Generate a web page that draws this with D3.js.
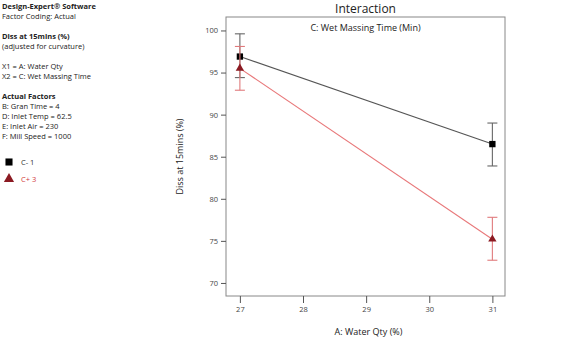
<!DOCTYPE html>
<html>
<head>
<meta charset="utf-8">
<script src="https://cdn.jsdelivr.net/npm/d3@7"></script>
<style>
  body { margin: 0; background: #fff; }
  text { font-family: "Open Sans", "Noto Sans", sans-serif; }
</style>
</head>
<body>
<div id="chart"></div>
<script>
// data
const waterQty = [27, 31];
const xTicks = [27, 28, 29, 30, 31];
const yTicks = [70, 75, 80, 85, 90, 95, 100];
const seriesNames = ["C- 1", "C+ 3"];
const lowValues = [96.9, 86.5];      // C- 1
const lowUpper = [99.6, 89.0];
const lowLower = [94.4, 83.9];
const highValues = [95.5, 75.2];     // C+ 3
const highUpper = [98.1, 77.8];
const highLower = [92.9, 72.7];
const infoLines = [
  { t: "Design-Expert® Software", b: true, y: 9 },
  { t: "Factor Coding: Actual", y: 19 },
  { t: "Diss at 15mins (%)", b: true, y: 39 },
  { t: "(adjusted for curvature)", y: 49 },
  { t: "X1 = A: Water Qty", y: 69 },
  { t: "X2 = C: Wet Massing Time", y: 79 },
  { t: "Actual Factors", b: true, y: 99 },
  { t: "B: Gran Time = 4", y: 109 },
  { t: "D: Inlet Temp = 62.5", y: 119 },
  { t: "E: Inlet Air = 230", y: 129 },
  { t: "F: Mill Speed = 1000", y: 139 }
];

const W = 577, H = 351;
const margin = { top: 17, right: 72, bottom: 55, left: 226 };
const width = W - margin.left - margin.right;
const height = H - margin.top - margin.bottom;

const svg = d3.select("#chart").append("svg")
  .attr("width", W).attr("height", H);

// side notes
svg.append("g").selectAll("text")
  .data(infoLines).enter().append("text")
  .attr("x", 2).attr("y", d => d.y)
  .attr("font-size", 7.5)
  .attr("font-weight", d => d.b ? "bold" : "normal")
  .attr("fill", "#222")
  .text(d => d.t);

const series = [
  { name: seriesNames[0], vals: lowValues, up: lowUpper, lo: lowLower,
    line: "#555", bar: "#666", mark: "#000", txt: "#333", shape: d3.symbolSquare },
  { name: seriesNames[1], vals: highValues, up: highUpper, lo: highLower,
    line: "#e8787a", bar: "#e07a7c", mark: "#8b1a22", txt: "#d23a3a", shape: d3.symbolTriangle }
];

// legend
const leg = svg.append("g");
series.forEach((s, i) => {
  const y = 162 + i * 17;
  leg.append("path")
    .attr("d", d3.symbol().type(s.shape).size(i ? 45 : 50)())
    .attr("transform", `translate(9,${y})`)
    .attr("fill", s.mark);
  leg.append("text").attr("x", 21).attr("y", y + 3)
    .attr("font-size", 7.5).attr("fill", s.txt).text(s.name);
});

const g = svg.append("g").attr("transform", `translate(${margin.left},${margin.top})`);

const x = d3.scaleLinear().domain([26.78, 31.2]).range([0, width]);
const y = d3.scaleLinear().domain([68.45, 101.6]).range([height, 0]);

// frame
g.append("rect").attr("width", width).attr("height", height)
  .attr("fill", "none").attr("stroke", "#888").attr("stroke-width", 1);

// axes
const xAxis = g.append("g").attr("transform", `translate(0,${height})`)
  .call(d3.axisBottom(x).tickValues(xTicks).tickSize(7).tickPadding(4).tickFormat(d3.format("d")));
const yAxis = g.append("g")
  .call(d3.axisLeft(y).tickValues(yTicks).tickSize(5).tickPadding(3).tickFormat(d3.format("d")));
[xAxis, yAxis].forEach(a => {
  a.select(".domain").remove();
  a.selectAll("line").attr("stroke", "#555");
  a.selectAll("text").attr("font-size", 7.5).attr("fill", "#444")
    .style("font-family", "'Open Sans', sans-serif");
});

// lines, error bars, markers
series.forEach(s => {
  const pts = waterQty.map((w, i) => ({ w, v: s.vals[i], up: s.up[i], lo: s.lo[i] }));
  g.append("path").datum(pts)
    .attr("fill", "none").attr("stroke", s.line).attr("stroke-width", 1.1)
    .attr("d", d3.line().x(d => x(d.w)).y(d => y(d.v)));
  const eb = g.append("g").selectAll("g").data(pts).enter().append("g")
    .attr("stroke", s.bar).attr("stroke-width", 1.1);
  eb.append("line").attr("x1", d => x(d.w)).attr("x2", d => x(d.w))
    .attr("y1", d => y(d.up)).attr("y2", d => y(d.lo));
  eb.append("line").attr("x1", d => x(d.w) - 5).attr("x2", d => x(d.w) + 5)
    .attr("y1", d => y(d.up)).attr("y2", d => y(d.up));
  eb.append("line").attr("x1", d => x(d.w) - 5).attr("x2", d => x(d.w) + 5)
    .attr("y1", d => y(d.lo)).attr("y2", d => y(d.lo));
  g.append("g").selectAll("path").data(pts).enter().append("path")
    .attr("d", d3.symbol().type(s.shape).size(s.shape === d3.symbolSquare ? 40 : 30)())
    .attr("transform", d => `translate(${x(d.w)},${y(d.v)})`)
    .attr("fill", s.mark);
});

// titles
svg.append("text").attr("x", margin.left + width / 2).attr("y", 13)
  .attr("text-anchor", "middle").attr("font-size", 12).attr("fill", "#222")
  .text("Interaction");
g.append("text").attr("x", width / 2).attr("y", 14)
  .attr("text-anchor", "middle").attr("font-size", 9).attr("fill", "#222")
  .text("C: Wet Massing Time (Min)");
svg.append("text").attr("x", margin.left + width / 2 + 3).attr("y", 335)
  .attr("text-anchor", "middle").attr("font-size", 9).attr("fill", "#222")
  .text("A: Water Qty (%)");
svg.append("text")
  .attr("transform", `translate(183,${margin.top + height / 2}) rotate(-90)`)
  .attr("text-anchor", "middle").attr("font-size", 9).attr("fill", "#222")
  .text("Diss at 15mins (%)");
</script>
</body>
</html>
